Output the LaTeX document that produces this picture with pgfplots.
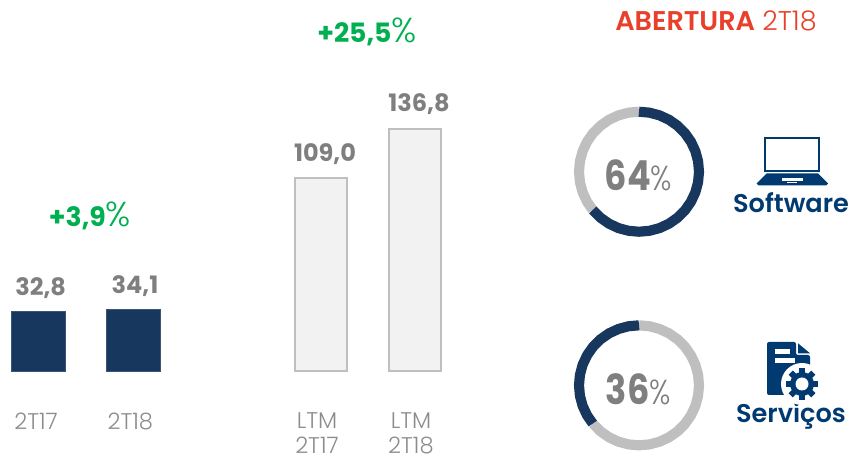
\documentclass[border=0pt]{standalone}
\usepackage{pgfplots}
\pgfplotsset{compat=1.18}
\usepgfplotslibrary{polar}
\usepackage{fontspec}
\setmainfont{Poppins}
\newfontfamily\lt{Poppins Light}
\newfontfamily\smb{Poppins SemiBold}
\definecolor{navy}{HTML}{17375E}
\definecolor{icon}{HTML}{003A70}
\definecolor{ringg}{HTML}{BFBFBF}
\definecolor{txt}{HTML}{7F7F7F}
\definecolor{lbl}{HTML}{8C8C8C}
\definecolor{grn}{HTML}{00B050}
\definecolor{redd}{HTML}{E8402A}
\pgfplotsset{
  barax/.style={
    scale only axis, clip=false, ybar, ymin=0, xmin=-0.3, xmax=1.3,
    axis line style={draw=none}, tick style={draw=none}, ytick=\empty,
    xtick=data, xticklabel style={font=\fontsize{17}{19}\selectfont\lt, text=lbl, align=center, anchor=north, inner sep=0pt},
    nodes near coords, every node near coord/.append style={font=\fontsize{18}{20}\selectfont\bfseries, text=txt},
    /pgf/number format/assume math mode=true,
    /pgf/number format/use comma, /pgf/number format/fixed, /pgf/number format/fixed zerofill, /pgf/number format/precision=1},
  ring/.style={
    hide axis, scale only axis, width=90pt, height=90pt, ymin=0, ymax=60, xmin=0, xmax=360,
    clip=false, anchor=center},
}
\tikzset{ringline/.style={line width=7.6pt, line cap=butt, line join=round, no markers}}
\begin{document}
\begin{tikzpicture}[x=0.75pt,y=0.75pt]
\path[use as bounding box] (0,0) rectangle (850,456);
% small bars
\begin{axis}[barax, at={(7.8pt,63.4pt)}, anchor=south west, width=113.2pt, height=54.9pt, ymax=40,
  bar width=40.5pt, xticklabels={2T17,2T18}, xticklabel style={yshift=-27pt, xshift=-2pt},
  every node near coord/.append style={yshift=6pt, xshift=1.5pt}]
\addplot[fill=navy, draw=navy!85!white, line width=0.4pt] coordinates {(0,32.8) (1,34.1)};
\end{axis}
% tall bars
\begin{axis}[barax, at={(219.6pt,63.4pt)}, anchor=south west, width=112.8pt, height=199.8pt, ymax=150,
  bar width=38.5pt, xticklabels={LTM\\2T17,LTM\\2T18}, xticklabel style={yshift=-26.5pt, xshift=-3pt},
  every node near coord/.append style={yshift=6pt, xshift=3pt}]
\addplot[fill=black!5, draw=ringg, line width=1.5pt] coordinates {(0,109.0) (1,136.8)};
\end{axis}
% ring 64
\begin{polaraxis}[ring, at={(479.25pt,213.2pt)}]
\addplot[ringline, ringg] coordinates {(-140.4,60)(-150,60)(-160,60)(-170,60)(-180,60)(-190,60)(-200,60)(-210,60)(-220,60)(-230,60)(-240,60)(-250,60)(-260,60)(-270,60)};
\addplot[ringline, navy] coordinates {(90,60)(80,60)(70,60)(60,60)(50,60)(40,60)(30,60)(20,60)(10,60)(0,60)(-10,60)(-20,60)(-30,60)(-40,60)(-50,60)(-60,60)(-70,60)(-80,60)(-90,60)(-100,60)(-110,60)(-120,60)(-130,60)(-140.4,60)};
\end{polaraxis}
% ring 36
\begin{polaraxis}[ring, at={(479.25pt,53pt)}]
\addplot[ringline, ringg] coordinates {(90,60)(80,60)(70,60)(60,60)(50,60)(40,60)(30,60)(20,60)(10,60)(0,60)(-10,60)(-20,60)(-30,60)(-40,60)(-50,60)(-60,60)(-70,60)(-80,60)(-90,60)(-100,60)(-110,60)(-120,60)(-130,60)(-140.4,60)};
\addplot[ringline, navy] coordinates {(90,60)(100,60)(110,60)(120,60)(130,60)(140,60)(150,60)(160,60)(170,60)(180,60)(190,60)(200,60)(210,60)(219.6,60)};
\end{polaraxis}
% texts
\node[text=grn, font=\fontsize{20}{24}\selectfont] at (90,240) {{\bfseries +3,9}{\lt\fontsize{26}{28}\selectfont\%}};
\node[text=grn, font=\fontsize{20}{24}\selectfont] at (367,424) {{\bfseries +25,5}{\lt\fontsize{26}{28}\selectfont\%}};
\node[text=redd, font=\fontsize{20.3}{24}\selectfont] at (716,435) {{\smb ABERTURA} {\lt 2T18}};
\node[text=txt] at (638.5,281) {\scalebox{0.85}[1]{\fontsize{31}{36}\selectfont{\bfseries 64}{\lt\fontsize{26}{28}\selectfont\%}}};
\node[text=txt] at (638.5,67) {\scalebox{0.85}[1]{\fontsize{31}{36}\selectfont{\bfseries 36}{\lt\fontsize{26}{28}\selectfont\%}}};
\node[text=icon, font=\fontsize{19.2}{22}\selectfont\smb] at (791,253) {Software};
\node[text=icon, font=\fontsize{19.2}{22}\selectfont\smb] at (791,40) {Serviços};
% laptop icon
\draw[icon, line width=1.5pt] (765,318) rectangle (819,284.5);
\fill[icon] (766.7,282.7) -- (818,282.7) -- (828,272.5) -- (826,270.5) -- (758.5,270.5) -- (756.7,272.5) -- cycle;
\fill[white] (781.7,277.7) rectangle (803,275.3);
\fill[white] (786.7,273.7) rectangle (797.3,272.7);
% services icon
\fill[icon, rounded corners=1.5pt] (767,114) -- (767,61) -- (810,61) -- (810,101) -- (796,101) -- (796,114) -- cycle;
\fill[icon] (798,112.7) -- (810,102.7) -- (798,102.7) -- cycle;
\fill[white] (775,106.7) rectangle (790,102);
\fill[white] (775,97.7) rectangle (795,93.3);
\fill[white] (802,72) circle (21);
\foreach \a in {0,45,...,135}{
  \fill[icon, rotate around={\a:(802,72)}] (799,88) rectangle (805,56);
}
\fill[icon] (802,72) circle (12);
\fill[white] (802,72) circle (6.5);
\end{tikzpicture}
\end{document}
